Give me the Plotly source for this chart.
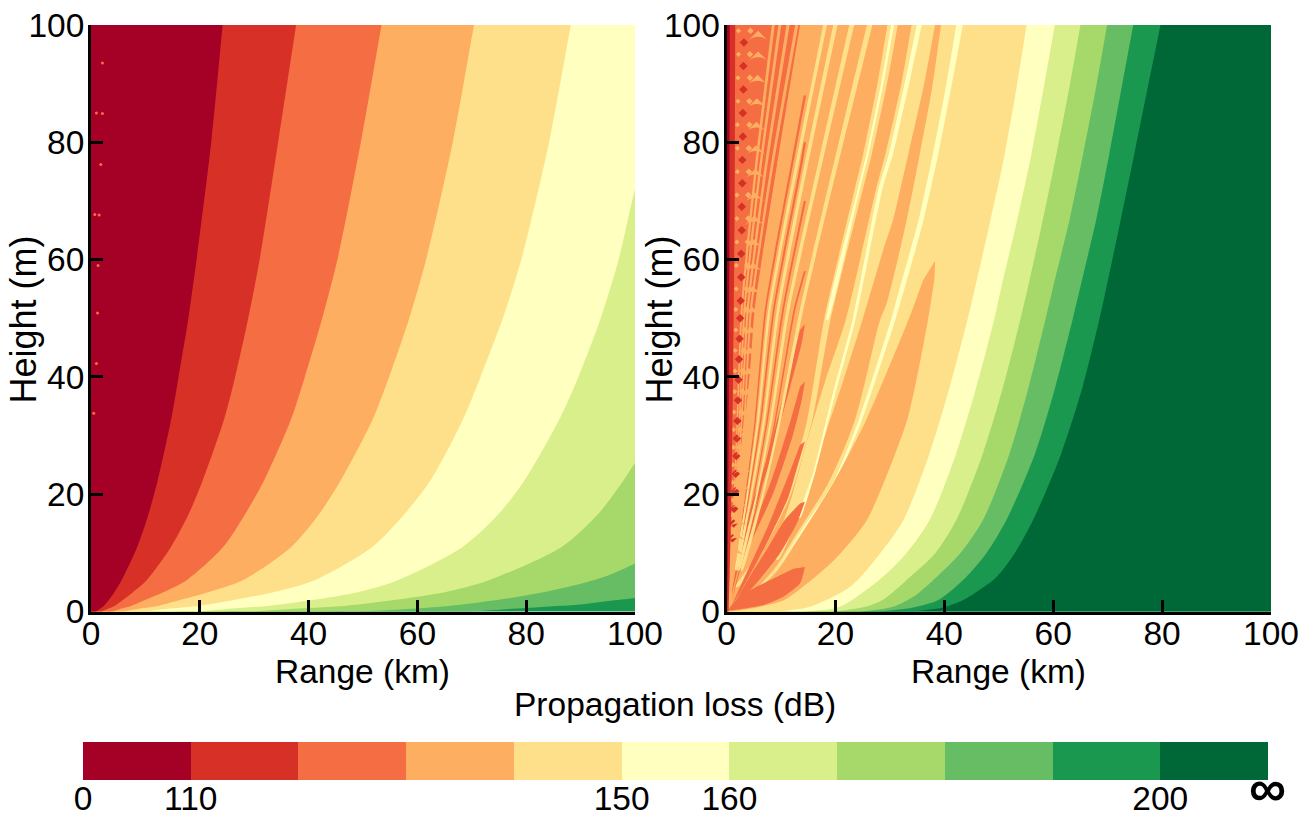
import plotly.graph_objects as go

COL = ["#a50026", "#d73027", "#f46d43", "#fdae61", "#fee08b", "#ffffbf",
       "#d9ef8b", "#a6d96a", "#66bd63", "#1a9850", "#006837"]

# ---------- left panel contour boundaries (range km at height m) ----------
L_H = [100, 80, 60, 50, 40, 32.6, 22.5, 16.7, 11, 5.3, 3.3, 2, 1, 0.5, 0]
L1 = [24.2, 22.1, 19.4, 17.9, 16.1, 14.7, 12.3, 10.6, 8.5, 5.6, 4.3, 3.3, 2.4, 1.7, 1]
L2 = [37.7, 34.4, 31, 28.9, 26.5, 24.4, 20.6, 18, 14.7, 10.2, 7.7, 5.9, 4.4, 3.2, 2]
L3 = [53.4, 49.6, 45.3, 42.5, 39.3, 36.7, 31.9, 28.4, 24.3, 17.5, 13.3, 10, 7.5, 5.6, 4]
L4 = [70.4, 66.5, 61.6, 58.5, 54.8, 51.7, 46, 42, 36.8, 27.8, 21.5, 16.5, 12.5, 9, 6]
L5 = [88.2, 84.2, 79.1, 75.7, 71.6, 68.3, 62.5, 57.7, 51.7, 41, 33.5, 26.5, 20, 14.5, 10]
L6_H = [78, 72, 60, 50, 40, 32.6, 22.5, 16.7, 11, 5.3, 3.3, 2, 1, 0.5, 0]
L6 = [102, 100, 97, 93.7, 89.6, 86, 79.8, 75, 68.3, 56.3, 49, 41, 33, 26, 20]
L7_H = [29, 25.3, 22.5, 16.7, 11, 5.3, 3.3, 2, 1, 0.5, 0]
L7 = [103, 100, 98, 93.3, 86.5, 73, 65, 56, 47, 38, 30]
L8_H = [13, 8.2, 6.2, 4.7, 3.3, 2.2, 1.2, 0.5, 0]
L8 = [110, 100, 95.2, 89.8, 83.1, 76.4, 68.4, 59.7, 50]
L9_H = [3.8, 2.3, 1.8, 1.2, 0.6, 0]
L9 = [110, 100, 95.2, 89.8, 79.8, 70]
SPECK_R = [2.1, 2.1, 1, 1.8, 1.5, 0.7, 1.3, 1.2, 1, 0.5]
SPECK_H = [93.5, 84.9, 85, 76.2, 67.6, 67.7, 59, 50.9, 42.3, 33.8]

# ---------- right panel main boundaries ----------
R_H1 = [100, 89.5, 78, 66.8, 55.4, 49.9, 38.3, 27, 15.6, 9.9, 5.9, 3.7, 1.95, 0.7, 0]
R1 = [79.7, 77.4, 74.9, 72.4, 69.8, 68.5, 65.4, 61.5, 56.3, 52.9, 49.6, 46.5, 43.5, 39.8, 34]
R_H2 = [100, 89.5, 78, 66.8, 55.4, 49.9, 38.3, 27, 15.6, 9.9, 5.4, 2, 0.7, 0]
R2 = [74.7, 72.6, 70.3, 67.9, 65, 63.6, 60.4, 56.7, 51.4, 47.7, 43.5, 39, 34.3, 28]
R_H3 = [100, 89.5, 78, 66.8, 55.4, 49.9, 38.3, 27, 15.6, 9.9, 5.9, 2.5, 0.8, 0]
R3 = [69.9, 67.9, 65.5, 63, 60, 58.6, 55.5, 52, 47.1, 42.9, 38.6, 34.3, 30.6, 25]
R_H4 = [100, 89.5, 78, 66.8, 55.4, 49.9, 38.3, 27, 15.6, 9.9, 5.9, 2, 0.8, 0]
R4 = [65, 63, 60.6, 58.1, 55.4, 54, 50.8, 47.1, 42.2, 38.3, 33.7, 28.7, 25.5, 20]
R_H5 = [100, 89.5, 78, 66.8, 55.4, 49.9, 38.3, 27, 15.6, 9.9, 5.5, 0.8, 0]
R5 = [60.3, 58.3, 56, 53.4, 50.5, 49.2, 45.9, 42.2, 37.3, 33, 28.2, 20.8, 15]
R_H6 = [100, 89.5, 78, 66.8, 55.4, 49.9, 38.3, 27, 15.6, 9.9, 4.2, 0.8, 0]
R6 = [55.1, 53.3, 51.1, 48.5, 45.7, 44.3, 41, 37.3, 32.5, 28.2, 22.7, 15.3, 10]

# bright stripe inside the last pale-orange band
YA_H = [100, 89.5, 78, 66.8, 55.4, 49.7, 32.7, 21.9, 13.3, 7]
YA_RIGHT = [43.4, 41.3, 38.9, 36.2, 32.8, 31, 24.9, 19.9, 13.7, 9.2]
YA_LEFT = [42.2, 40.3, 37.9, 35.3, 31.9, 30.2, 24.3, 19.5, 13.4, 9.2]

# lobe with tip near (38.5, 59.8)
LOBE_R = [38.3, 38.2, 37, 33.2, 25.8, 19.7, 10.5, 2.6, 0.3, 1.2, 4.3, 9.2, 13.5, 19.6, 25.7, 33.4, 36.1]
LOBE_H = [59.8, 57, 49.7, 32.7, 15.6, 8.7, 1.9, 0.2, 0.1, 0.8, 2.5, 6.8, 12.8, 21.9, 32.7, 49.7, 56.5]

# band M: right edge
MR_R = [39.4, 37.8, 35.5, 33.1, 29.4, 28.2, 23.6, 18.7, 12.9, 8.9, 5, 1, 0.2]
MR_H = [100, 89.5, 78, 66.8, 52.5, 49.7, 32.7, 21.9, 13.3, 7.4, 3.5, 0.6, 0]

# pale stripe S1 (edges and core)
S1R_R = [38.3, 36.2, 33.4, 30.6, 28.9, 25, 21.5, 17.6, 14.1, 9.5]
S1R_H = [100, 89.5, 78, 66.8, 62, 49.8, 39.5, 28.7, 18.4, 8.8]
S1L_R = [34, 32, 29.2, 27.6, 21.9, 18.2, 14.7, 12, 8.6]
S1L_H = [100, 89.5, 78, 72.5, 49.7, 39.5, 28.7, 19.6, 9.3]
S1C_R = [35.4, 33, 30.2, 28.4, 23.4, 19.6, 16.2, 13.4]
S1C_H = [100, 89.5, 78, 72.5, 49.7, 36.6, 24, 16]

# thin fan stripes: range km at height m
S2_R = [30.5, 28.6, 25.9, 24.3, 18.5, 15.3, 11.3, 6.1, 1.9]
S2_H = [100, 90, 78, 72, 49.7, 32.7, 19.6, 9.9, 4.2]
S_H = [100, 75.6, 51.5, 32.7, 19.6, 7]
S3 = [26.3, 19.9, 13.8, 9.8, 6.6, 2.8]
S4 = [23, 17, 11.3, 8.2, 5.5, 2.3]
S5 = [20, 14.5, 9.5, 6.9, 4.5, 1.9]
S6 = [18.1, 12.8, 7.9, 5.8, 3.8, 1.6]
S7 = [16.2, 11, 6.6, 4.8, 3.2, 1.3]
S8 = [14.4, 9.5, 5.4, 4, 2.6, 1.1]
S9 = [12.9, 8.3, 4.5, 3.3, 2.1, 0.9]
S10 = [11.3, 7.2, 3.9, 2.8, 1.8, 0.8]
S11 = [9.8, 6.2, 3.3, 2.4, 1.6, 0.7]
S12 = [8.6, 5.4, 2.8, 2, 1.4, 0.6]
# narrow orange fingers above the five large ones; all tips lie near 14.4 km
D1_R = [14.4, 12.5, 9, 6, 2.5]
D1_H = [58, 51.5, 32.7, 19.6, 7]
D2_R = [14.4, 10.4, 7.5, 5, 2.1]
D2_H = [70, 51.5, 32.7, 19.6, 7]
D3_R = [14.4, 13.6, 8.7, 6.3, 4.1, 1.7]
D3_H = [80, 75.6, 51.5, 32.7, 19.6, 7]
D4_R = [14.4, 11.9, 7.2, 5.3, 3.5, 1.45]
D4_H = [88, 75.6, 51.5, 32.7, 19.6, 7]

# orange base and fingers
OR_R = [13.5, 9.2, 5.5, 3.4, 1.2, 0.3]
OR_H = [100, 75.6, 51.5, 32.7, 18.4, 0.2]
F1_R = [14.4, 13.5, 10.4, 6.8, 2.5, 0.3, 2.5, 5.5, 9.2, 12.3]
F1_H = [7.6, 4.8, 2.5, 1.1, 0.4, 0.2, 2.5, 4.2, 5.9, 7.3]
F2_R = [14.4, 12.9, 9.8, 4.9, 1.2, 4.3, 7.7, 10.7, 13.5]
F2_H = [18.7, 15, 9.9, 4.2, 0.8, 6, 11, 15.6, 18.4]
F3_R = [14.4, 13.2, 11.4, 7.7, 3.1, 1, 3.1, 7.6, 11.3, 13.5]
F3_H = [29, 25.3, 19.6, 12.2, 4.2, 1, 5.4, 14.5, 23, 28.4]
F4_R = [14.4, 13.8, 12.3, 8.6, 3.1, 1, 3.1, 8.5, 11.8, 13.5]
F4_H = [39.2, 36, 30.4, 20.2, 8.8, 2, 9.9, 23, 32.7, 38.3]
F5_R = [14.4, 13.8, 11.7, 8, 3.1, 1, 2.7, 7.3, 10.9, 13.5]
F5_H = [49, 45.7, 38.3, 25.8, 11, 3, 12.2, 25.8, 38.3, 48]

# darker strip along the left axis
DK_R = [1.6, 1.5, 1.2, 0.8, 0.4]
DK_H = [100, 70, 40, 15, 0]
DK2_R = [0.6, 0.55, 0.45, 0.3, 0.1]
DK2_H = [100, 70, 40, 15, 0]

# arch pattern near the source
ARCH_R = [5.8, 5.8, 5.7, 5.6, 5.5, 5.4, 5.3, 5.2, 5.1, 5, 4.9, 4.8, 4.7, 4.5, 4.3, 4.1, 3.9,
          3.7, 3.5, 3.2, 3, 2.8, 2.5, 2.2, 1.9, 1.6]
ARCH_H = [99, 95.5, 91.5, 87.5, 83.5, 79.5, 75.5, 71.5, 67.5, 63.5, 59.5, 55.5, 52, 48.5, 45,
          41.5, 38, 34.5, 31, 28, 25, 22, 19, 16, 13.5, 11]
DIA_R = [3.2, 3.1, 3.1, 3, 3, 2.9, 2.9, 2.8, 2.8, 2.7, 2.7, 2.6, 2.5, 2.4, 2.3, 2.2, 2.1, 2, 1.9,
         1.8, 1.7, 1.6, 1.4, 1.3, 1.1]
DIA_H = [97, 93, 89, 85, 81, 77, 73, 69, 65, 61, 57, 53, 50, 46.5, 43, 39.5, 36, 32.5, 29.5,
         26.5, 23.5, 20.5, 17.5, 15, 12.5]
DIB_R = [4.4, 4.3, 4.3, 4.2, 4.2, 4.1, 4.1, 4, 4, 3.9, 3.8, 3.7, 3.6, 3.4, 3.2, 3, 2.9, 2.7, 2.5,
         2.4, 2.2, 2, 1.8, 1.6, 1.4]
DIB_H = [99, 95, 91, 87, 83, 79, 75, 71, 67, 63, 59, 55, 51.5, 48, 44.5, 41, 37.5, 34, 31,
         28, 25, 22, 19, 16.5, 14]
DIC_R = [2.2, 2.2, 2.1, 2.1, 2, 2, 2, 1.9, 1.9, 1.9, 1.8, 1.8, 1.7, 1.7, 1.6, 1.6, 1.5, 1.4, 1.3,
         1.3, 1.2, 1.1, 1, 0.9, 0.8]
DIC_H = [99, 95, 91, 87, 83, 79, 75, 71, 67, 63, 59, 55, 51.5, 48, 44.5, 41, 37.5, 34, 31,
         28, 25, 22, 19, 16.5, 14]

TICKS = [0, 20, 40, 60, 80, 100]
BAR_LEVELS = list(range(11))
BAR_TICKVALS = [0, 1, 5, 6, 10]
BAR_TICKTEXT = ["0", "110", "150", "160", "200"]

W, H = 1314, 819
FONT = "Liberation Sans"
FS = 33.5
fig = go.Figure()


def left_region(r, h, color, ax):
    # continue the edge past both ends so the smoothing stays on the curve inside the frame
    xs = [2 * r[0] - r[1]] + list(r) + [2 * r[-1] - r[-2]]
    ys = [2 * h[0] - h[1]] + list(h) + [2 * h[-1] - h[-2]]
    if r[0] >= 100:
        xs = [130] + xs
        ys = [150] + ys
    xs += [-40, -40]
    ys += [-40, 160]
    fig.add_trace(go.Scatter(x=xs, y=ys, fill="toself", fillcolor=color, mode="lines",
                             line=dict(width=0, shape="spline", smoothing=0.8),
                             hoverinfo="skip", showlegend=False, xaxis=ax[0], yaxis=ax[1]))


def poly(r, h, color, ax):
    fig.add_trace(go.Scatter(x=list(r), y=list(h), fill="toself", fillcolor=color, mode="lines",
                             line=dict(width=0, shape="spline", smoothing=0.6),
                             hoverinfo="skip", showlegend=False, xaxis=ax[0], yaxis=ax[1]))


def stripe(r, h, color, w_km, ax):
    # tapered fan stripe around a centre line; narrower towards the source
    half = [w_km / 2 * (0.25 + 0.75 * v / 100) for v in h]
    right = [a + b for a, b in zip(r, half)]
    left = [a - b for a, b in zip(r, half)]
    poly(right + left[::-1], list(h) + list(h)[::-1], color, ax)


A1 = ("x", "y")
A2 = ("x2", "y2")

# left panel: paint from the highest loss inwards
for r, h, c in [(L9, L9_H, COL[8]), (L8, L8_H, COL[7]), (L7, L7_H, COL[6]), (L6, L6_H, COL[5]),
                (L5, L_H, COL[4]), (L4, L_H, COL[3]), (L3, L_H, COL[2]), (L2, L_H, COL[1]),
                (L1, L_H, COL[0])]:
    left_region(r, h, c, A1)
fig.add_trace(go.Scatter(x=SPECK_R, y=SPECK_H, mode="markers",
                         marker=dict(size=3, color=COL[2], symbol="circle"),
                         hoverinfo="skip", showlegend=False, xaxis="x", yaxis="y"))

# right panel
for r, h, c in [(R1, R_H1, COL[9]), (R2, R_H2, COL[8]), (R3, R_H3, COL[7]), (R4, R_H4, COL[6]),
                (R5, R_H5, COL[5]), (R6, R_H6, COL[4])]:
    left_region(r, h, c, A2)
poly(YA_RIGHT + YA_LEFT[::-1], YA_H + YA_H[::-1], COL[5], A2)
poly(LOBE_R, LOBE_H, COL[3], A2)
left_region(MR_R, MR_H, COL[3], A2)
poly(S1R_R + S1L_R[::-1], S1R_H + S1L_H[::-1], COL[4], A2)
stripe(S1C_R, S1C_H, COL[5], 0.9, A2)
stripe(S2_R, S2_H, COL[4], 1.9, A2)
stripe(S2_R[:5], S2_H[:5], COL[5], 0.5, A2)
left_region(OR_R, OR_H, COL[2], A2)
for r, h in [(F1_R, F1_H), (F2_R, F2_H), (F3_R, F3_H), (F4_R, F4_H), (F5_R, F5_H)]:
    poly(r, h, COL[2], A2)
for r, h in [(D1_R, D1_H), (D2_R, D2_H), (D3_R, D3_H), (D4_R, D4_H)]:
    stripe(r, h, COL[2], 0.5, A2)
for s, c, w in [(S3, COL[4], 1.0), (S4, COL[4], 0.9), (S5, COL[4], 0.8), (S6, COL[4], 0.7),
                (S7, COL[3], 0.7), (S8, COL[3], 0.7), (S9, COL[3], 0.6), (S10, COL[3], 0.6),
                (S11, COL[3], 0.55), (S12, COL[3], 0.55)]:
    stripe(s, S_H, c, w, A2)
for rr, hh, cc, ss, sym in [(DIB_R, DIB_H, COL[3], 5, "diamond"), (DIA_R, DIA_H, COL[1], 6.5, "diamond"),
                            (DIC_R, DIC_H, COL[3], 4, "diamond"), (ARCH_R, ARCH_H, COL[3], 14, "arrow-wide")]:
    fig.add_trace(go.Scatter(x=rr, y=hh, mode="markers", marker=dict(size=ss, color=cc, symbol=sym),
                             hoverinfo="skip", showlegend=False, xaxis="x2", yaxis="y2"))
left_region(DK_R, DK_H, COL[1], A2)
left_region(DK2_R, DK2_H, COL[0], A2)

# colour bar
fig.add_trace(go.Heatmap(z=[BAR_LEVELS], x0=0.5, dx=1, y0=0.5, dy=1, zmin=-0.5, zmax=10.5,
                         colorscale=[[(i + j) / 11, COL[i]] for i in range(11) for j in (0, 1)],
                         showscale=False, hoverinfo="skip", xaxis="x3", yaxis="y3"))


def axis_common(standoff):
    return dict(range=[0, 100], tickvals=TICKS, ticks="inside", ticklen=12, tickwidth=3,
                tickcolor="black", showline=True, linewidth=3, linecolor="black", showgrid=False,
                zeroline=False, tickfont=dict(family=FONT, size=FS, color="black"),
                ticklabelstandoff=standoff, layer="above traces", automargin=False)


def dx(a, b):
    return [a / W, b / W]


def dy(top, bot):
    return [1 - bot / H, 1 - top / H]


def label(text, x, y, size=FS, angle=0, family=FONT):
    return dict(text=text, xref="paper", yref="paper", x=x / W, y=1 - y / H, showarrow=False,
                xanchor="center", yanchor="middle", textangle=angle,
                font=dict(family=family, size=size, color="black"))


fig.update_layout(
    width=W, height=H, margin=dict(l=0, r=0, t=0, b=0), paper_bgcolor="white",
    plot_bgcolor=COL[9], showlegend=False,
    xaxis=dict(**axis_common(-10), domain=dx(91, 635), anchor="y"),
    yaxis=dict(**axis_common(-3), domain=dy(25, 611.5), anchor="x"),
    xaxis2=dict(**axis_common(-10), domain=dx(726.5, 1271), anchor="y2"),
    yaxis2=dict(**axis_common(-3), domain=dy(25, 611.5), anchor="x2"),
    xaxis3=dict(range=[0, 11], domain=dx(83, 1268), anchor="y3", tickvals=BAR_TICKVALS,
                ticktext=BAR_TICKTEXT, ticks="", showline=False, showgrid=False, zeroline=False,
                tickfont=dict(family=FONT, size=FS, color="black"), ticklabelstandoff=-5,
                automargin=False),
    yaxis3=dict(range=[0, 1], domain=dy(742, 780), anchor="x3", visible=False),
    annotations=[
        label("Range (km)", 362, 671), label("Range (km)", 998, 671),
        label("Height (m)", 23, 319.5, size=36, angle=-90),
        label("Height (m)", 659, 319.5, size=36, angle=-90),
        label("Propagation loss (dB)", 675, 704),
        label("<b>∞</b>", 1267, 788, size=52),
    ],
    shapes=[dict(type="rect", xref="x2 domain", yref="y2 domain", x0=0, x1=1, y0=0, y1=1,
                 fillcolor=COL[10], line_width=0, layer="below")],
)

fig.write_html("out.html", post_script="document.body.style.margin='0';",
               config=dict(displayModeBar=False))
